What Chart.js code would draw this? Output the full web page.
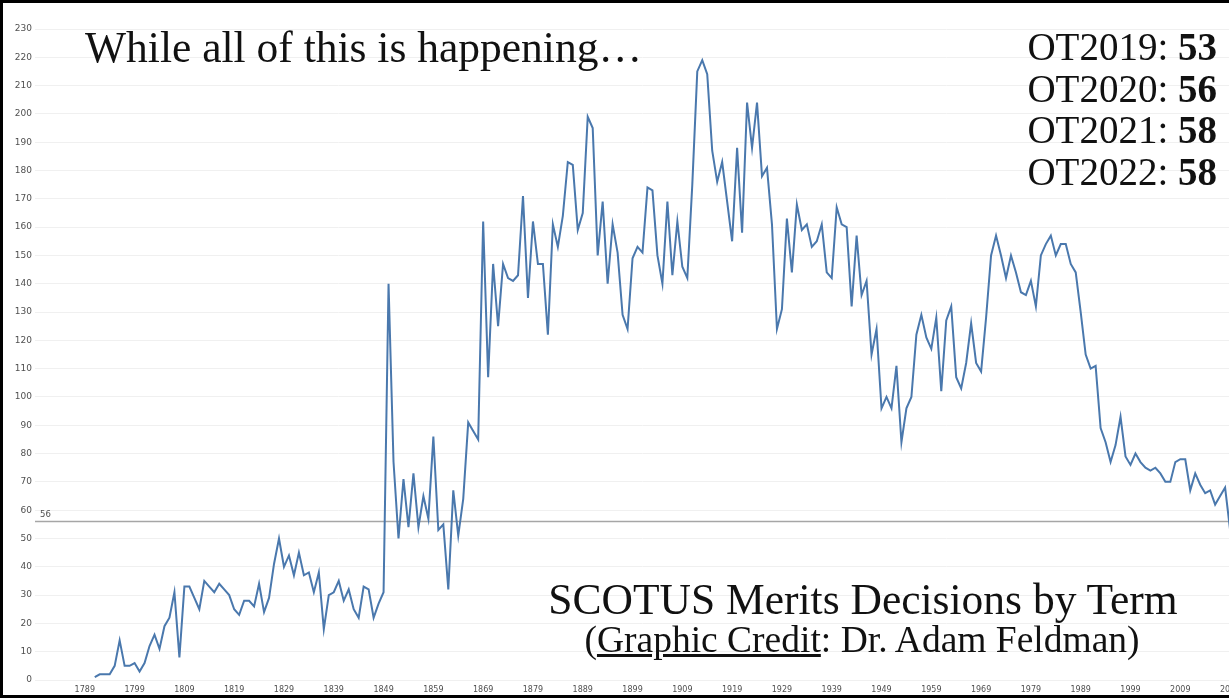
<!DOCTYPE html>
<html>
<head>
<meta charset="utf-8">
<script src="https://cdn.jsdelivr.net/npm/chart.js@4.4.1/dist/chart.umd.min.js"></script>
<style>
  html, body { margin: 0; padding: 0; background: #fff; overflow: hidden; }
  #wrap { position: relative; width: 1229px; height: 698px; overflow: hidden; background: #fff; }
  #c { position: absolute; left: 0; top: 0; }
  .frame { position: absolute; left: 0; top: 0; width: 1229px; height: 698px; box-sizing: border-box;
           border: 3px solid #000; border-right: none; pointer-events: none; }
  .t { position: absolute; font-family: "Liberation Serif", serif; color: #111; white-space: nowrap; line-height: 1; }
  #ot { right: 12px; top: 26px; font-size: 39px; line-height: 41.5px; text-align: right; }
  #ot b { font-weight: bold; }
</style>
</head>
<body>
<div id="wrap">
  <canvas id="c" width="1250" height="698"></canvas>
  <div class="t" style="left:85px;top:26px;font-size:43.5px">While all of this is happening…</div>
  <div class="t" id="ot"></div>
  <div class="t" style="left:863px;top:578px;font-size:43.5px;transform:translateX(-50%)">SCOTUS Merits Decisions by Term</div>
  <div class="t" style="left:862px;top:621px;font-size:37.5px;transform:translateX(-50%)">(<u>Graphic Credit</u>: Dr. Adam Feldman)</div>
  <div class="frame"></div>
</div>
<script>
// merits decisions per term
const firstTerm = 1791
const decisions1791to1849 = [1, 2, 2, 2, 5, 14, 5, 5, 6,
  3, 6, 12, 16, 11, 19, 22, 31, 8, 33,
  33, 29, 25, 35, 33, 31, 34, 32, 30, 25,
  23, 28, 28, 26, 34, 24, 29, 41, 50, 40,
  44, 37, 45, 37, 38, 31, 38, 18, 30, 31,
  35, 28, 32, 25, 22, 33, 32, 22, 27, 31]
const decisions1850to1899 = [140, 77, 50, 71, 54, 73, 54, 65, 57, 86,
  53, 55, 32, 67, 51, 64, 91, 88, 85, 162,
  107, 147, 125, 147, 142, 141, 143, 171, 135, 162,
  147, 147, 122, 161, 153, 164, 183, 182, 159, 165,
  199, 195, 150, 169, 140, 161, 151, 129, 124, 149]
const decisions1900to1949 = [153, 151, 174, 173, 150, 140, 169, 143, 162, 146,
  142, 175, 215, 219, 214, 187, 176, 183, 169, 155,
  188, 158, 204, 188, 204, 178, 181, 161, 124, 131,
  163, 144, 168, 159, 161, 153, 155, 161, 144, 142,
  167, 161, 160, 132, 157, 136, 141, 115, 124, 96]
const decisions1950to2019 = [100, 96, 111, 84, 96, 100, 122, 129, 121, 117,
  128, 102, 127, 132, 107, 103, 112, 126, 112, 109,
  128, 150, 157, 150, 142, 150, 144, 137, 136, 141,
  132, 150, 154, 157, 150, 154, 154, 147, 144, 130,
  115, 110, 111, 89, 84, 77, 83, 93, 79, 76,
  80, 77, 75, 74, 75, 73, 70, 70, 77, 78,
  78, 67, 73, 69, 66, 67, 62, 65, 68, 53]

const recentTerms = ['OT2019', 'OT2020', 'OT2021', 'OT2022']
const recentCounts = [53, 56, 58, 58]
const referenceLevel = 56

const xTickYears = [1789, 1799, 1809, 1819, 1829, 1839, 1849, 1859, 1869, 1879, 1889, 1899,
  1909, 1919, 1929, 1939, 1949, 1959, 1969, 1979, 1989, 1999, 2009, 2019]
const xMin = 1779, xMax = 2023
const yMin = 0, yMax = 230, yStep = 10

const decisions = [].concat(decisions1791to1849, decisions1850to1899, decisions1900to1949, decisions1950to2019)
const terms = decisions.map((v, i) => firstTerm + i)

document.getElementById('ot').innerHTML = recentTerms
  .map((t, i) => `${t}: <b>${recentCounts[i]}</b>`).join('<br>')

// little label sitting on the reference line
const refLabel = {
  id: 'refLabel',
  afterDatasetsDraw(chart) {
    const ctx = chart.ctx, y = chart.scales.y.getPixelForValue(referenceLevel)
    ctx.save()
    ctx.font = '8.5px "DejaVu Sans"'
    ctx.fillStyle = '#505050'
    ctx.textBaseline = 'bottom'
    ctx.fillText(String(referenceLevel), chart.chartArea.left + 5, y - 2)
    ctx.restore()
  }
}

new Chart(document.getElementById('c'), {
  type: 'line',
  data: {
    datasets: [{
      label: 'Merits decisions',
      data: terms.map((t, i) => ({x: t, y: decisions[i]})),
      borderColor: '#4a78ad',
      borderWidth: 2,
      pointRadius: 0,
      tension: 0,
      fill: false
    }, {
      label: 'reference',
      data: [{x: xMin, y: referenceLevel}, {x: xMax, y: referenceLevel}],
      borderColor: '#a6a6a6',
      borderWidth: 1.3,
      pointRadius: 0,
      fill: false
    }]
  },
  options: {
    responsive: false,
    animation: false,
    layout: {padding: {top: 29, left: 0, right: 0, bottom: 0}},
    plugins: {legend: {display: false}, tooltip: {enabled: false}},
    scales: {
      x: {
        type: 'linear', min: xMin, max: xMax,
        grid: {display: false, drawTicks: false},
        border: {display: false},
        afterBuildTicks: axis => { axis.ticks = xTickYears.map(v => ({value: v})) },
        afterFit: axis => { axis.height = 18 },
        ticks: {
          autoSkip: false, maxRotation: 0, padding: 5,
          color: '#505050', font: {family: 'DejaVu Sans', size: 8},
          callback: v => String(v)
        }
      },
      y: {
        min: yMin, max: yMax,
        grid: {color: '#f0f0f0', drawTicks: false},
        border: {display: false},
        afterFit: axis => { axis.width = 35 },
        ticks: {stepSize: yStep, padding: 3, color: '#505050', font: {family: 'DejaVu Sans', size: 9}}
      }
    }
  },
  plugins: [refLabel]
})
</script>
</body>
</html>
